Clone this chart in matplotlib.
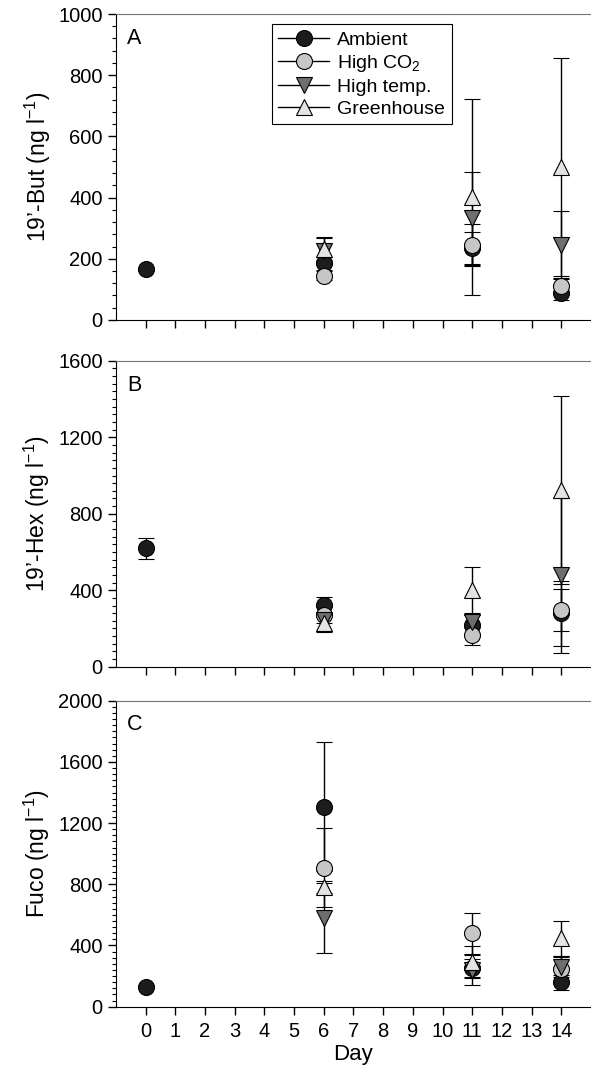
import numpy as np
import matplotlib.pyplot as plt
from matplotlib.lines import Line2D
from matplotlib.ticker import MultipleLocator

plt.rcParams['font.family'] = ['Liberation Sans', 'DejaVu Sans']
plt.rcParams['mathtext.fontset'] = 'custom'
plt.rcParams['mathtext.rm'] = 'Liberation Sans'

days = [0, 6, 11, 14]
nan = np.nan

# panel A: 19'-But
but_amb = [165, 185, 234, 89]
but_amb_sd = [4, 22, 55, 24]
but_co2 = [nan, 144, 245, 111]
but_co2_sd = [nan, 15, 70, 26]
but_temp = [nan, 225, 332, 245]
but_temp_sd = [nan, 45, 150, 110]
but_green = [nan, 232, 402, 501]
but_green_sd = [nan, 35, 320, 356]

# panel B: 19'-Hex
hex_amb = [620, 323, 218, 279]
hex_amb_sd = [55, 43, 50, 170]
hex_co2 = [nan, 270, 166, 296]
hex_co2_sd = [nan, 40, 50, 110]
hex_temp = [nan, 245, 235, 479]
hex_temp_sd = [nan, 65, 35, 405]
hex_green = [nan, 230, 401, 924]
hex_green_sd = [nan, 45, 122, 493]

# panel C: Fuco
fuco_amb = [131, 1307, 250, 159]
fuco_amb_sd = [8, 421, 60, 50]
fuco_co2 = [nan, 909, 480, 244]
fuco_co2_sd = [nan, 259, 134, 80]
fuco_temp = [nan, 578, 240, 262]
fuco_temp_sd = [nan, 229, 100, 70]
fuco_green = [nan, 784, 294, 447]
fuco_green_sd = [nan, 40, 100, 113]

labels = ['Ambient', 'High CO$_2$', 'High temp.', 'Greenhouse']
markers = ['o', 'o', 'v', '^']
fills = ['#1c1c1c', '#c6c6c6', '#6e6e6e', '#e4e4e4']

panels = [
    ('A', "19\u2019-But (ng l$^{-1}$)", 1000, 200,
     [(but_amb, but_amb_sd), (but_co2, but_co2_sd), (but_temp, but_temp_sd), (but_green, but_green_sd)]),
    ('B', "19\u2019-Hex (ng l$^{-1}$)", 1600, 400,
     [(hex_amb, hex_amb_sd), (hex_co2, hex_co2_sd), (hex_temp, hex_temp_sd), (hex_green, hex_green_sd)]),
    ('C', "Fuco (ng l$^{-1}$)", 2000, 400,
     [(fuco_amb, fuco_amb_sd), (fuco_co2, fuco_co2_sd), (fuco_temp, fuco_temp_sd), (fuco_green, fuco_green_sd)]),
]

fig = plt.figure(figsize=(5.91, 10.69), dpi=100)
bottoms = [0.7007, 0.3763, 0.0583]

for i, (letter, ylab, ymax, ystep, series) in enumerate(panels):
    ax = fig.add_axes([0.196, bottoms[i], 0.804, 0.2862])
    for (vals, sd), mk, fc in zip(series, markers, fills):
        ax.errorbar(days, vals, yerr=sd, fmt=mk, color='black', ecolor='black',
                    elinewidth=1, capsize=6, capthick=1,
                    markerfacecolor=fc, markeredgecolor='black',
                    markeredgewidth=0.8, markersize=11.5)
    ax.set_xlim(-1, 15)
    ax.set_ylim(0, ymax)
    ax.set_xticks(range(0, 15))
    ax.yaxis.set_major_locator(MultipleLocator(ystep))
    ax.yaxis.set_minor_locator(MultipleLocator(40))
    ax.tick_params(axis='both', direction='out', length=6, width=1, labelsize=14.5)
    ax.tick_params(axis='x', pad=5)
    ax.tick_params(axis='y', which='minor', direction='out', length=3, width=0.8)
    ax.spines['right'].set_visible(False)
    ax.spines['top'].set_color('0.45')
    ax.set_ylabel(ylab, fontsize=16.5, labelpad=4)
    ax.text(0.023, 0.955, letter, transform=ax.transAxes, fontsize=15.5, va='top')
    if i < 2:
        ax.tick_params(axis='x', labelbottom=False)
    else:
        ax.set_xlabel('Day', fontsize=16, labelpad=2)
    if i == 0:
        handles = [Line2D([0], [0], color='black', lw=1, marker=mk,
                          markerfacecolor=fc, markeredgecolor='black',
                          markeredgewidth=0.8, markersize=11.5)
                   for mk, fc in zip(markers, fills)]
        leg = ax.legend(handles, labels, loc='upper left', bbox_to_anchor=(0.328, 0.967),
                        borderaxespad=0, fontsize=14, handlelength=2.6,
                        handletextpad=0.4, borderpad=0.35, labelspacing=0.22,
                        fancybox=False, edgecolor='black', framealpha=1)
        leg.get_frame().set_linewidth(0.8)

fig.savefig('out.png', dpi=100)
